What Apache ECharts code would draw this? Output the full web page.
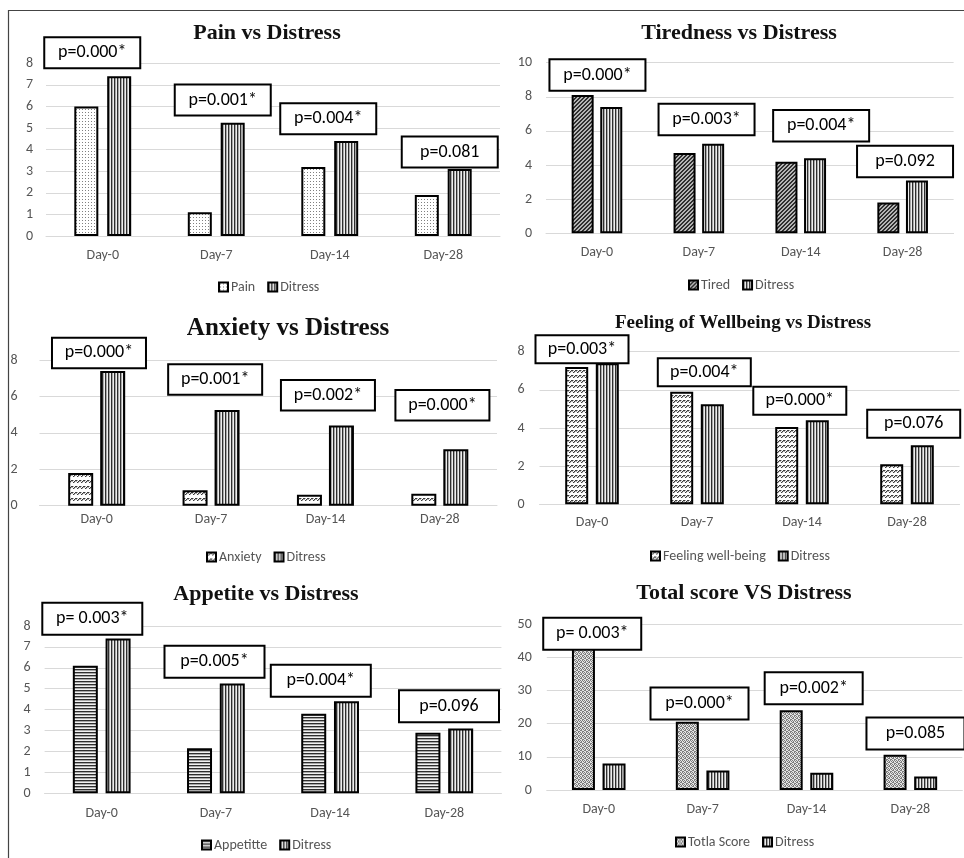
<!DOCTYPE html>
<html>
<head>
<meta charset="utf-8">
<script src="https://cdn.jsdelivr.net/npm/echarts@6/dist/echarts.min.js"></script>
<style>
  html, body { margin: 0; padding: 0; background: #fff; }
  #chart { width: 964px; height: 858px; }
</style>
</head>
<body>
<div id="chart"></div>
<script>
// ---- data ----
const categories = ['Day-0', 'Day-7', 'Day-14', 'Day-28'];

const painScores      = [6.0, 1.1, 3.2, 1.9];
const distressScores  = [7.4, 5.25, 4.4, 3.1];
const tiredScores     = [8.1, 4.7, 4.2, 1.8];
const anxietyScores   = [1.8, 0.85, 0.6, 0.65];
const wellbeingScores = [7.2, 5.9, 4.05, 2.1];
const appetiteScores  = [6.1, 2.15, 3.8, 2.9];
const totalScores     = [43, 20.6, 24.1, 10.6];
const totalDistress   = [8.0, 5.9, 5.2, 4.1];

const pPain      = ['p=0.000*', 'p=0.001*', 'p=0.004*', 'p=0.081'];
const pTired     = ['p=0.000*', 'p=0.003*', 'p=0.004*', 'p=0.092'];
const pAnxiety   = ['p=0.000*', 'p=0.001*', 'p=0.002*', 'p=0.000*'];
const pWellbeing = ['p=0.003*', 'p=0.004*', 'p=0.000*', 'p=0.076'];
const pAppetite  = ['p= 0.003*', 'p=0.005*', 'p=0.004*', 'p=0.096'];
const pTotal     = ['p= 0.003*', 'p=0.000*', 'p=0.002*', 'p=0.085'];

const titles = ['Pain vs Distress', 'Tiredness vs Distress', 'Anxiety vs Distress',
                'Feeling of Wellbeing vs Distress', 'Appetite vs Distress', 'Total score VS Distress'];
const seriesNames = [['Pain', 'Ditress'], ['Tired', 'Ditress'], ['Anxiety', 'Ditress'],
                     ['Feeling well-being', 'Ditress'], ['Appetitte', 'Ditress'], ['Totla Score', 'Ditress']];
const seriesValues = [[painScores, distressScores], [tiredScores, distressScores], [anxietyScores, distressScores],
                      [wellbeingScores, distressScores], [appetiteScores, distressScores], [totalScores, totalDistress]];
const pLabels = [pPain, pTired, pAnxiety, pWellbeing, pAppetite, pTotal];
const yMax = [8, 10, 8, 8, 8, 50];
const yStep = [1, 2, 2, 2, 1, 10];

// ---- fill patterns ----
function makePattern(w, h, painter) {
  const c = document.createElement('canvas');
  c.width = w; c.height = h;
  const ctx = c.getContext('2d');
  ctx.fillStyle = '#fff';
  ctx.fillRect(0, 0, w, h);
  painter(ctx);
  return { image: c, repeat: 'repeat' };
}
function px(ctx, x, y, col) { ctx.fillStyle = col; ctx.fillRect(x, y, 1, 1); }

const patDots = makePattern(3, 3, ctx => { px(ctx, 1, 1, '#808080'); });
const patVertical = makePattern(3, 1, ctx => { px(ctx, 0, 0, '#2e2e2e'); px(ctx, 1, 0, '#a8a8a8'); px(ctx, 2, 0, '#eeeeee'); });
const patHorizontal = makePattern(1, 3, ctx => { px(ctx, 0, 0, '#2e2e2e'); px(ctx, 0, 1, '#a8a8a8'); px(ctx, 0, 2, '#f2f2f2'); });
const patDiagDark = makePattern(4, 4, ctx => {
  for (let y = 0; y < 4; y++) for (let x = 0; x < 4; x++) {
    px(ctx, x, y, ((x + y) % 4) < 2 ? '#2f2f2f' : '#b5b5b5');
  }
});
function bandedDiag(h) {
  return makePattern(4, h, ctx => {
    for (let y = 0; y < 3; y++) for (let x = 0; x < 4; x++) {
      if ((x + y) % 3 === 0) px(ctx, x, y, '#3a3a3a');
      else if ((x + y) % 3 === 1) px(ctx, x, y, '#b0b0b0');
    }
  });
}
const patAnxiety = bandedDiag(6);
const patWellbeing = bandedDiag(5);
const patConfetti = makePattern(4, 4, ctx => {
  const map = ['1010', '0101', '1100', '0011'];
  for (let y = 0; y < 4; y++) for (let x = 0; x < 4; x++) {
    px(ctx, x, y, map[y][x] === '1' ? '#7d7d7d' : '#e4e4e4');
  }
});
const firstFills = [patDots, patDiagDark, patAnxiety, patWellbeing, patHorizontal, patConfetti];

// ---- panel layout ----
const panels = [
  { grid: [46, 63.3, 454, 172.7], title: [267, 32, 22], legend: [218, 280], bw: 24, gap: '37%', yMargin: 13, xMargin: 12,
    box: [96, 31], boxOff: [[-10.5, 8.5], [6.5, 7.6], [-1.5, 7.3], [6.5, 2]] },
  { grid: [546, 62.7, 407.6, 170.6], title: [739, 32, 22], legend: [688, 278], bw: 22, gap: '30%', yMargin: 14, xMargin: 12,
    box: [96, 31.5], boxOff: [[0.5, 4.8], [7.7, 9], [20.4, 17.2], [2.4, 3.7]] },
  { grid: [39.5, 360, 457.5, 145.7], title: [288, 327, 25], legend: [206, 550], bw: 25, gap: '28%', yMargin: 22, xMargin: 7,
    box: [94, 30.5], boxOff: [[2.3, 3.3], [4.1, 15.9], [2.5, 15.6], [2.6, 29.3]] },
  { grid: [539.5, 351.7, 420, 152.6], title: [743, 321, 19], legend: [650, 549], bw: 23, gap: '33%', yMargin: 15, xMargin: 11,
    box: [93, 28], boxOff: [[-10, 0.4], [7.3, 6], [-2.2, 6], [6.7, 7.8]] },
  { grid: [44.6, 626, 456.8, 167.3], title: [266, 593, 22], legend: [201, 838], bw: 25, gap: '31%', yMargin: 14, xMargin: 13,
    box: [100, 32], boxOff: [[-9.4, 4.3], [-1.4, 6.3], [-9.3, 5], [4.7, 6.8]] },
  { grid: [546.8, 624.3, 415.5, 165.7], title: [744, 592, 22], legend: [675, 835], bw: 23, gap: '33%', yMargin: 15, xMargin: 12,
    box: [98, 32], boxOff: [[-6.5, -1.8], [-3.1, 2.8], [7.2, 6.5], [5.1, 5.9]] }
];

const SANS = 'Carlito, Lato, "Liberation Sans", sans-serif';
const SERIF = '"Liberation Serif", "DejaVu Serif", serif';
const GRAY_TEXT = '#555555';
const GRID_LINE = '#d9d9d9';

const option = {
  animation: false,
  backgroundColor: '#fff',
  title: [], grid: [], xAxis: [], yAxis: [], legend: [], series: [],
  graphic: [{
    type: 'polyline', silent: true,
    shape: { points: [[8.5, 900], [8.5, 10.5], [980, 10.5]] },
    style: { stroke: '#444', lineWidth: 1.2, fill: null }
  }]
};

panels.forEach((p, i) => {
  const [gl, gt, gw, gh] = p.grid;
  option.title.push({
    text: titles[i], left: p.title[0], top: p.title[1] - p.title[2] * 0.6 + 4, textAlign: 'center', padding: 0,
    textStyle: { fontFamily: SERIF, fontWeight: 'bold', fontSize: p.title[2], color: '#111' }
  });
  option.grid.push({ left: gl, top: gt, width: gw, height: gh, containLabel: false });
  option.xAxis.push({
    type: 'category', gridIndex: i, data: categories,
    axisLine: { show: true, lineStyle: { color: GRID_LINE, width: 1 } },
    axisTick: { show: false },
    axisLabel: { color: GRAY_TEXT, fontFamily: SANS, fontSize: 14, margin: p.xMargin }
  });
  option.yAxis.push({
    type: 'value', gridIndex: i, min: 0, max: yMax[i], interval: yStep[i],
    axisLine: { show: false }, axisTick: { show: false },
    axisLabel: { color: GRAY_TEXT, fontFamily: SANS, fontSize: 14, margin: p.yMargin },
    splitLine: { lineStyle: { color: GRID_LINE, width: 1 } }
  });
  option.legend.push({
    left: p.legend[0], top: p.legend[1], padding: 0, itemGap: 12, itemWidth: 9, itemHeight: 9,
    selectedMode: false, icon: 'rect',
    data: seriesNames[i],
    textStyle: { color: GRAY_TEXT, fontFamily: SANS, fontSize: 14, padding: [0, 0, 0, -2] }
  });
  const fills = [firstFills[i], patVertical];
  seriesNames[i].forEach((name, k) => {
    option.series.push({
      type: 'bar', name: name, xAxisIndex: i, yAxisIndex: i,
      data: seriesValues[i][k], barWidth: p.bw, barGap: p.gap,
      itemStyle: { color: fills[k], borderColor: '#000', borderWidth: 2 },
      emphasis: { disabled: true }
    });
  });
  // significance boxes sit above the taller bar of each day
  const tallest = categories.map((c, j) => Math.max(seriesValues[i][0][j], seriesValues[i][1][j]));
  option.series.push({
    type: 'scatter', xAxisIndex: i, yAxisIndex: i, symbolSize: 1, silent: true, z: 10,
    itemStyle: { color: 'rgba(0,0,0,0)', opacity: 1 },
    emphasis: { disabled: true },
    data: tallest.map((v, j) => ({
      value: [j, v],
      label: { offset: [p.boxOff[j][0], -p.boxOff[j][1]], formatter: pLabels[i][j] }
    })),
    label: {
      show: true, position: 'top', distance: 0, opacity: 1,
      color: '#000', fontFamily: SANS, fontSize: 18,
      backgroundColor: '#fff', borderColor: '#000', borderWidth: 2,
      width: p.box[0] - 2 - 24, height: p.box[1] - 2 - 8, padding: [4, 12],
      lineHeight: p.box[1] - 10
    }
  });
});

const chart = echarts.init(document.getElementById('chart'), null, { renderer: 'canvas' });
chart.setOption(option);
</script>
</body>
</html>
